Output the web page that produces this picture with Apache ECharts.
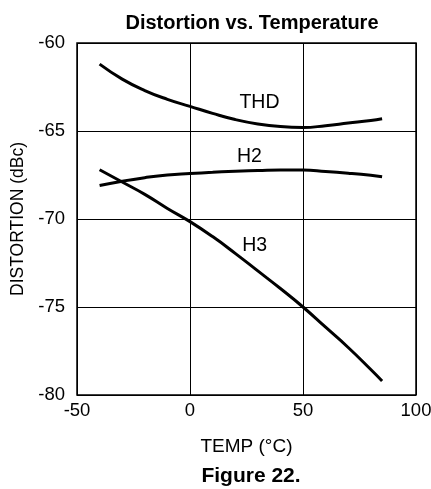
<!DOCTYPE html>
<html><head><meta charset="utf-8">
<script src="https://cdn.jsdelivr.net/npm/echarts@6/dist/echarts.min.js"></script>
<style>html,body{margin:0;padding:0;background:#fff}#c{width:431px;height:489px}</style>
</head><body><div id="c"></div>
<script>
const temps = [-40, -30, -20, -10, 0, 10, 20, 30, 40, 50, 60, 70, 80, 85];
const thd = [-61.2, -62.05, -62.7, -63.2, -63.6, -64.0, -64.35, -64.6, -64.75, -64.8, -64.7, -64.55, -64.4, -64.3];
const h2 = [-68.1, -67.85, -67.65, -67.5, -67.42, -67.35, -67.28, -67.25, -67.22, -67.22, -67.3, -67.4, -67.52, -67.6];
const h3 = [-67.2, -67.9, -68.6, -69.4, -70.15, -71.0, -71.95, -72.95, -73.95, -75.0, -76.15, -77.3, -78.55, -79.2];
const seriesNames = ['THD', 'H2', 'H3'];
const labelPos = [[30.75, -63.4], [26.3, -66.45], [28.6, -71.5]];
const font = '"Liberation Sans", Arial, sans-serif';

const chart = echarts.init(document.getElementById('c'), null, {renderer: 'canvas'});
const allData = [thd, h2, h3];
chart.setOption({
  animation: false,
  title: [
    {text: 'Distortion vs. Temperature', left: 247, textAlign: 'center', top: 8,
     textStyle: {fontFamily: font, fontSize: 20, fontWeight: 'bold', color: '#000'}},
    {text: 'Figure 22.', left: 246, textAlign: 'center', top: 461,
     textStyle: {fontFamily: font, fontSize: 21, fontWeight: 'bold', color: '#000'}}
  ],
  grid: {left: 77, right: 15, top: 43, bottom: 94, show: true, borderColor: '#000', borderWidth: 1.5,
         containLabel: false, outerBoundsMode: 'none'},
  xAxis: {
    type: 'value', min: -50, max: 100, interval: 50,
    name: 'TEMP (°C)', nameLocation: 'middle', nameGap: 42,
    nameTextStyle: {fontFamily: font, fontSize: 19, color: '#000'},
    axisLine: {show: false}, axisTick: {show: false},
    axisLabel: {fontFamily: font, fontSize: 18.5, color: '#000', margin: 6},
    splitLine: {show: true, lineStyle: {color: '#000', width: 1}}
  },
  yAxis: {
    type: 'value', min: -80, max: -60, interval: 5,
    name: 'DISTORTION (dBc)', nameLocation: 'middle', nameGap: 50,
    nameTextStyle: {fontFamily: font, fontSize: 17.5, color: '#000'},
    axisLine: {show: false}, axisTick: {show: false},
    axisLabel: {fontFamily: font, fontSize: 18.5, color: '#000', margin: 12},
    splitLine: {show: true, lineStyle: {color: '#000', width: 1}}
  },
  series: seriesNames.map((n, i) => ({
    name: n, type: 'line', smooth: true, symbol: 'none',
    data: temps.map((t, j) => [t, allData[i][j]]),
    lineStyle: {color: '#000', width: 3},
    markPoint: {
      symbol: 'circle', symbolSize: 0,
      label: {show: true, formatter: n, fontFamily: font, fontSize: 19.5, color: '#000', position: 'inside'},
      data: [{coord: labelPos[i]}]
    }
  }))
});
</script></body></html>
